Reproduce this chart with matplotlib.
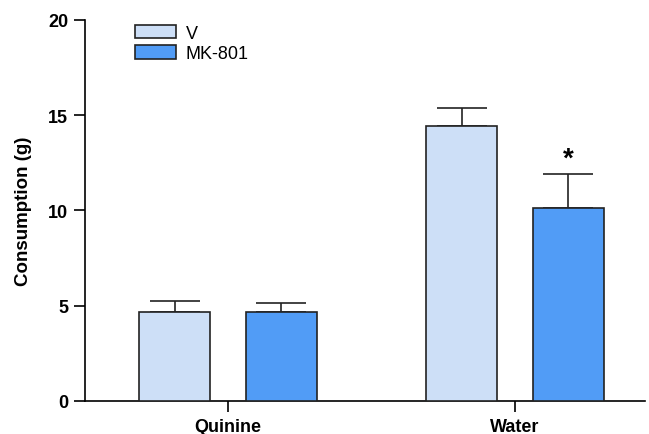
import matplotlib
matplotlib.use('Agg')
import matplotlib.pyplot as plt
import numpy as np
from matplotlib.patches import Patch

plt.rcParams['font.family'] = ['Liberation Sans', 'DejaVu Sans']

groups = ['Quinine', 'Water']
v_mean = [4.67, 14.44]
v_sem = [0.58, 0.94]
mk_mean = [4.67, 10.13]
mk_sem = [0.47, 1.79]

light = '#cddff7'
blue = '#519cf6'

fig = plt.figure(figsize=(6.49, 4.35), dpi=100)
ax = fig.add_axes([0.131, 0.076, 0.863, 0.876])

x = np.arange(len(groups))
off = 0.186
w = 0.247
ax.bar(x - off, v_mean, w, color=light, edgecolor='#222222', linewidth=1.2, zorder=3)
ax.bar(x + off, mk_mean, w, color=blue, edgecolor='#222222', linewidth=1.2, zorder=3)
ax.errorbar(x - off, v_mean, yerr=[np.zeros(2), v_sem], fmt='none', ecolor='#222222',
            elinewidth=1.2, capsize=18, capthick=1.2, zorder=2)
ax.errorbar(x + off, mk_mean, yerr=[np.zeros(2), mk_sem], fmt='none', ecolor='#222222',
            elinewidth=1.2, capsize=18, capthick=1.2, zorder=2)

# significance marker
ax.text(x[1] + off, mk_mean[1] + mk_sem[1] + 0.1, '*', ha='center', va='bottom',
        fontsize=20, fontweight='bold')

ax.set_xlim(-0.498, 1.453)
ax.set_ylim(0, 20)
ax.set_yticks([0, 5, 10, 15, 20])
ax.set_xticks(x)
ax.set_xticklabels(groups, fontsize=13, fontweight='bold')
for lab in ax.get_yticklabels():
    lab.set_fontsize(13)
    lab.set_fontweight('bold')
ax.set_ylabel('Consumption (g)', fontsize=13.5, fontweight='bold', labelpad=12)
ax.spines['top'].set_visible(False)
ax.spines['right'].set_visible(False)
ax.spines['left'].set_linewidth(1.2)
ax.spines['bottom'].set_linewidth(1.2)
ax.tick_params(axis='both', width=1.2, length=8, direction='out', pad=4)

handles = [Patch(facecolor=light, edgecolor='#222222', linewidth=1.2, label='V'),
           Patch(facecolor=blue, edgecolor='#222222', linewidth=1.2, label='MK-801')]
ax.legend(handles=handles, loc='upper left', bbox_to_anchor=(0.06, 1.03), frameon=False,
          fontsize=13, handlelength=2.3, handleheight=0.75, labelspacing=0.2, handletextpad=0.5)

fig.savefig('out.png', dpi=100)
